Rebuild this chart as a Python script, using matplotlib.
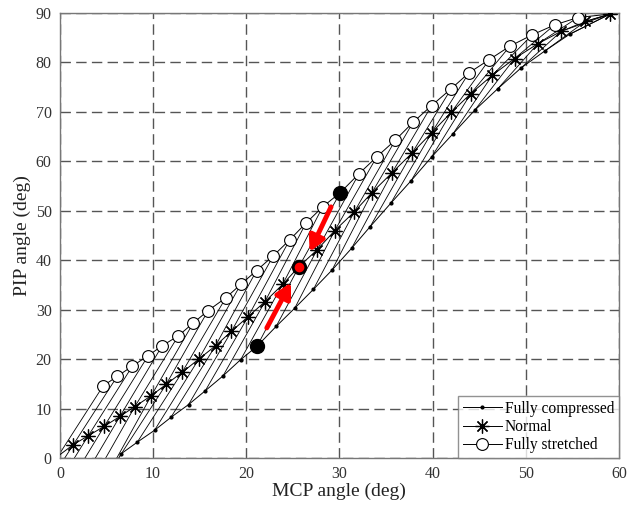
import numpy as np
import matplotlib
matplotlib.use("Agg")
import matplotlib.pyplot as plt

plt.rcParams['font.family'] = ['Liberation Serif', 'DejaVu Serif']

# one entry per diagonal line k = 0..30 (values read off the figure,
# a few points below/left of the axes are estimates of the clipped part)
mcp_normal = [-0.2, 1.43, 3.04, 4.75, 6.43, 8.04, 9.8, 11.4, 13.1, 14.9, 16.7, 18.4, 20.2, 22.0, 23.9,
              25.65, 27.6, 29.5, 31.6, 33.5, 35.65, 37.8, 39.9, 42.0, 44.1, 46.4, 48.8, 51.3, 53.8, 56.4, 59.05]
pip_normal = [0.4, 2.7, 4.5, 6.4, 8.4, 10.4, 12.6, 14.9, 17.3, 20.0, 22.7, 25.6, 28.6, 31.6, 35.1,
              38.7, 42.1, 46.0, 49.8, 53.7, 57.7, 61.7, 65.8, 69.9, 73.7, 77.4, 80.8, 83.8, 86.3, 88.3, 89.8]

mcp_stretched = [4.64, 6.14, 7.78, 9.47, 10.97, 12.7, 14.3, 15.9, 17.8, 19.4, 21.1, 22.9, 24.65, 26.4, 28.2,
                 30.1, 32.1, 34.0, 36.0, 37.9, 39.9, 42.0, 43.9, 46.1, 48.3, 50.7, 53.1, 55.6, 59.05, 59.05, 59.05]
pip_stretched = [14.6, 16.5, 18.6, 20.7, 22.7, 24.7, 27.3, 29.8, 32.4, 35.1, 37.9, 40.9, 44.1, 47.5, 50.8,
                 53.7, 57.5, 60.9, 64.3, 67.9, 71.3, 74.7, 77.9, 80.6, 83.3, 85.6, 87.6, 89.1, 89.8, 89.8, 89.8]

mcp_compressed = [-3.0, -2.2, -1.1, 0.1, 1.3, 2.5, 3.75, 6.6, 8.3, 10.15, 11.9, 13.8, 15.6, 17.5, 19.4,
                  21.15, 23.2, 25.2, 27.2, 29.2, 31.3, 33.3, 35.5, 37.7, 39.9, 42.2, 44.5, 47.0, 49.5, 52.1, 54.7]
pip_compressed = [-7.8, -8.0, -8.0, -8.0, -8.0, -8.0, -8.0, 0.9, 3.2, 5.6, 8.2, 10.8, 13.6, 16.6, 19.9,
                  22.6, 26.6, 30.3, 34.1, 38.0, 42.4, 46.8, 51.5, 56.1, 60.9, 65.6, 70.3, 74.7, 78.9, 82.4, 85.7]

# common end point of all curves
mcp_end = 59.05
pip_end = 89.8

# highlighted posture (black -> red <- black)
highlight = 15

fig = plt.figure(figsize=(6.28, 5.12), dpi=100)
ax = fig.add_axes([0.0955, 0.1055, 0.890, 0.869])

# diagonal lines: compressed -> normal -> stretched for each k
for k in range(len(mcp_normal)):
    ax.plot([mcp_compressed[k], mcp_normal[k], mcp_stretched[k]],
            [pip_compressed[k], pip_normal[k], pip_stretched[k]],
            color='black', lw=0.6, zorder=2)

n = len(mcp_normal)
ax.plot(mcp_compressed + [mcp_end], pip_compressed + [pip_end], color='black', lw=0.7,
        marker='.', ms=4, markevery=list(range(7, n)), zorder=3, label='Fully compressed')
ax.plot(mcp_normal, pip_normal, color='black', lw=0.7, marker=(8, 2, 0), ms=10, mew=0.9,
        markevery=list(range(1, n)), zorder=3, label='Normal')
ax.plot(mcp_stretched + [mcp_end], pip_stretched + [pip_end], color='black', lw=0.7,
        marker='o', ms=8.5, mfc='white', mew=0.8, markevery=list(range(0, 28)), zorder=3,
        label='Fully stretched')

# highlighted points
ax.plot(mcp_compressed[highlight], pip_compressed[highlight], 'o', color='black', ms=10, zorder=5)
ax.plot(mcp_stretched[highlight], pip_stretched[highlight], 'o', color='black', ms=10, zorder=5)
ax.plot(mcp_normal[highlight], pip_normal[highlight], 'o', mfc='red', mec='black', mew=2, ms=9, zorder=5)

# red arrows
arrow_kw = dict(arrowstyle='-|>,head_length=0.45,head_width=0.24', color='red', lw=3.5,
                mutation_scale=20, shrinkA=0, shrinkB=0)
ax.annotate('', xy=(26.8, 41.7), xytext=(29.1, 50.8), arrowprops=arrow_kw, zorder=6)
ax.annotate('', xy=(24.8, 35.5), xytext=(22.2, 26.3), arrowprops=arrow_kw, zorder=6)

ax.set_xlim(0, 60)
ax.set_ylim(0, 90)
ax.set_xticks(range(0, 61, 10))
ax.set_yticks(range(0, 91, 10))
ax.tick_params(length=0, labelsize=11.5, colors='#333333', pad=6)
ax.grid(True, color='#555555', lw=1.0, linestyle=(0, (7.5, 3.8)))
ax.set_axisbelow(True)
for s in ax.spines.values():
    s.set_color('#777777')
    s.set_linewidth(1.0)

ax.set_xlabel('MCP angle (deg)', fontsize=14, color='#222222', labelpad=0)
ax.set_ylabel('PIP angle (deg)', fontsize=14, color='#222222', labelpad=3)

leg = ax.legend(loc='lower right', fontsize=11.2, frameon=True, fancybox=False,
                borderaxespad=0, handlelength=2.5, handletextpad=0.2, labelspacing=0.15,
                borderpad=0.3)
leg.get_frame().set_edgecolor('#777777')
leg.get_frame().set_linewidth(1.0)

fig.savefig('out.png', dpi=100)
